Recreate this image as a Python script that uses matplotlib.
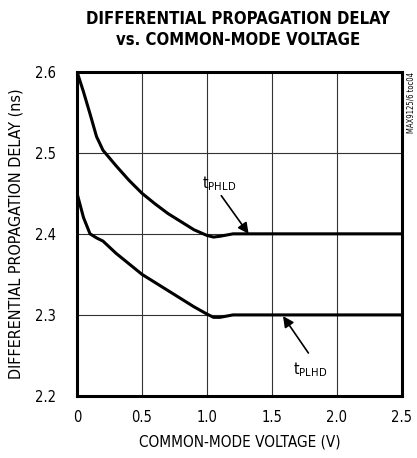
import matplotlib
matplotlib.use("Agg")
import matplotlib.pyplot as plt

plt.rcParams['font.family'] = ['DejaVu Sans']
plt.rcParams['font.stretch'] = 'condensed'
plt.rcParams['mathtext.fontset'] = 'custom'
plt.rcParams['mathtext.rm'] = 'DejaVu Sans:stretch=condensed'

# common-mode voltage (V)
vcm = [0, 0.05, 0.1, 0.15, 0.2, 0.3, 0.4, 0.5, 0.6, 0.7, 0.8, 0.9,
       1.0, 1.05, 1.1, 1.2, 1.3, 2.5]
# differential propagation delay (ns)
tphld = [2.6, 2.575, 2.548, 2.52, 2.503, 2.484, 2.466, 2.45, 2.437, 2.425,
         2.415, 2.405, 2.398, 2.396, 2.397, 2.4, 2.4, 2.4]
tplhd = [2.45, 2.42, 2.40, 2.395, 2.391, 2.376, 2.363, 2.35, 2.34, 2.33,
         2.32, 2.31, 2.301, 2.297, 2.297, 2.3, 2.3, 2.3]

x_ticks = [0, 0.5, 1.0, 1.5, 2.0, 2.5]
x_labels = ['0', '0.5', '1.0', '1.5', '2.0', '2.5']
y_ticks = [2.2, 2.3, 2.4, 2.5, 2.6]

fig = plt.figure(figsize=(4.17, 4.58), dpi=100)
ax = fig.add_axes([0.1847, 0.1354, 0.7793, 0.7081])

ax.plot(vcm, tphld, color='black', lw=2.2, solid_joinstyle='round')
ax.plot(vcm, tplhd, color='black', lw=2.2, solid_joinstyle='round')

ax.set_xlim(0, 2.5)
ax.set_ylim(2.2, 2.6)
ax.set_xticks(x_ticks)
ax.set_xticklabels(x_labels)
ax.set_yticks(y_ticks)
ax.set_yticklabels(['%.1f' % v for v in y_ticks])
ax.tick_params(length=0, labelsize=10.5)
ax.tick_params(axis='y', pad=15)
ax.tick_params(axis='x', pad=10)
ax.grid(True, color='#333333', lw=0.8)
for s in ax.spines.values():
    s.set_linewidth(2.2)

ax.set_xlabel('COMMON-MODE VOLTAGE (V)', fontsize=11, labelpad=7)
ax.set_ylabel('DIFFERENTIAL PROPAGATION DELAY (ns)', fontsize=11.5, labelpad=8)

# curve labels
ax.annotate('', xy=(1.32, 2.4), xytext=(1.11, 2.447),
            arrowprops=dict(arrowstyle='-|>', color='black', lw=1.2,
                            mutation_scale=16, shrinkA=0, shrinkB=0))
ax.text(0.96, 2.456, r't$_{\rm PHLD}$', fontsize=11.5, ha='left', va='baseline')
ax.annotate('', xy=(1.585, 2.2985), xytext=(1.78, 2.253),
            arrowprops=dict(arrowstyle='-|>', color='black', lw=1.2,
                            mutation_scale=16, shrinkA=0, shrinkB=0))
ax.text(1.665, 2.227, r't$_{\rm PLHD}$', fontsize=11.5, ha='left', va='baseline')

fig.text(0.571, 0.935, 'DIFFERENTIAL PROPAGATION DELAY\nvs. COMMON-MODE VOLTAGE',
         ha='center', va='center', fontsize=12, fontweight='bold', linespacing=1.2)
fig.text(0.985, 0.777, 'MAX9125/6 toc04', rotation=90, ha='center', va='center',
         fontsize=5.5)

fig.savefig('out.png', dpi=100)
